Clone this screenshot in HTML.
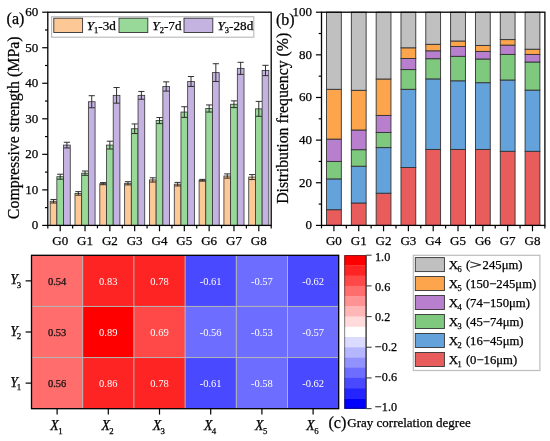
<!DOCTYPE html>
<html><head><meta charset="utf-8"><style>
html,body{margin:0;padding:0;background:#fff;width:550px;height:441px;overflow:hidden;}
svg{display:block;will-change:transform;}
text{font-family:"Liberation Serif", serif;stroke:currentColor;stroke-width:0.25px;}
</style></head><body>
<svg width="550" height="441" viewBox="0 0 550 441">
<rect x="50.16" y="201.24" width="6.70" height="24.16" fill="#fcc896" stroke="#333" stroke-width="0.8"/>
<rect x="56.86" y="176.72" width="6.70" height="48.68" fill="#98d898" stroke="#333" stroke-width="0.8"/>
<rect x="63.56" y="145.09" width="6.70" height="80.31" fill="#c4b2e0" stroke="#333" stroke-width="0.8"/>
<path d="M53.51 199.46V203.01M50.41 199.46h6.2M50.41 203.01h6.2" stroke="#262626" stroke-width="0.95" fill="none"/>
<path d="M60.21 174.23V179.21M57.11 174.23h6.2M57.11 179.21h6.2" stroke="#262626" stroke-width="0.95" fill="none"/>
<path d="M66.91 142.25V147.94M63.81 142.25h6.2M63.81 147.94h6.2" stroke="#262626" stroke-width="0.95" fill="none"/>
<rect x="74.98" y="193.42" width="6.70" height="31.98" fill="#fcc896" stroke="#333" stroke-width="0.8"/>
<rect x="81.68" y="173.17" width="6.70" height="52.23" fill="#98d898" stroke="#333" stroke-width="0.8"/>
<rect x="88.38" y="101.74" width="6.70" height="123.66" fill="#c4b2e0" stroke="#333" stroke-width="0.8"/>
<path d="M78.33 191.64V195.20M75.23 191.64h6.2M75.23 195.20h6.2" stroke="#262626" stroke-width="0.95" fill="none"/>
<path d="M85.03 171.03V175.30M81.93 171.03h6.2M81.93 175.30h6.2" stroke="#262626" stroke-width="0.95" fill="none"/>
<path d="M91.73 95.70V107.78M88.63 95.70h6.2M88.63 107.78h6.2" stroke="#262626" stroke-width="0.95" fill="none"/>
<rect x="99.81" y="183.65" width="6.70" height="41.75" fill="#fcc896" stroke="#333" stroke-width="0.8"/>
<rect x="106.51" y="145.09" width="6.70" height="80.31" fill="#98d898" stroke="#333" stroke-width="0.8"/>
<rect x="113.21" y="95.35" width="6.70" height="130.05" fill="#c4b2e0" stroke="#333" stroke-width="0.8"/>
<path d="M103.16 182.58V184.71M100.06 182.58h6.2M100.06 184.71h6.2" stroke="#262626" stroke-width="0.95" fill="none"/>
<path d="M109.86 141.19V149.00M106.76 141.19h6.2M106.76 149.00h6.2" stroke="#262626" stroke-width="0.95" fill="none"/>
<path d="M116.56 87.53V103.17M113.46 87.53h6.2M113.46 103.17h6.2" stroke="#262626" stroke-width="0.95" fill="none"/>
<rect x="124.63" y="183.29" width="6.70" height="42.11" fill="#fcc896" stroke="#333" stroke-width="0.8"/>
<rect x="131.33" y="128.75" width="6.70" height="96.65" fill="#98d898" stroke="#333" stroke-width="0.8"/>
<rect x="138.03" y="95.35" width="6.70" height="130.05" fill="#c4b2e0" stroke="#333" stroke-width="0.8"/>
<path d="M127.98 181.69V184.89M124.88 181.69h6.2M124.88 184.89h6.2" stroke="#262626" stroke-width="0.95" fill="none"/>
<path d="M134.68 123.95V133.55M131.58 123.95h6.2M131.58 133.55h6.2" stroke="#262626" stroke-width="0.95" fill="none"/>
<path d="M141.38 91.44V99.26M138.28 91.44h6.2M138.28 99.26h6.2" stroke="#262626" stroke-width="0.95" fill="none"/>
<rect x="149.45" y="179.92" width="6.70" height="45.48" fill="#fcc896" stroke="#333" stroke-width="0.8"/>
<rect x="156.15" y="120.58" width="6.70" height="104.82" fill="#98d898" stroke="#333" stroke-width="0.8"/>
<rect x="162.85" y="86.46" width="6.70" height="138.94" fill="#c4b2e0" stroke="#333" stroke-width="0.8"/>
<path d="M152.80 177.79V182.05M149.70 177.79h6.2M149.70 182.05h6.2" stroke="#262626" stroke-width="0.95" fill="none"/>
<path d="M159.50 117.56V123.60M156.40 117.56h6.2M156.40 123.60h6.2" stroke="#262626" stroke-width="0.95" fill="none"/>
<path d="M166.20 81.85V91.08M163.10 81.85h6.2M163.10 91.08h6.2" stroke="#262626" stroke-width="0.95" fill="none"/>
<rect x="174.27" y="184.18" width="6.70" height="41.22" fill="#fcc896" stroke="#333" stroke-width="0.8"/>
<rect x="180.97" y="112.05" width="6.70" height="113.35" fill="#98d898" stroke="#333" stroke-width="0.8"/>
<rect x="187.67" y="81.49" width="6.70" height="143.91" fill="#c4b2e0" stroke="#333" stroke-width="0.8"/>
<path d="M177.62 182.40V185.96M174.52 182.40h6.2M174.52 185.96h6.2" stroke="#262626" stroke-width="0.95" fill="none"/>
<path d="M184.32 106.72V117.38M181.22 106.72h6.2M181.22 117.38h6.2" stroke="#262626" stroke-width="0.95" fill="none"/>
<path d="M191.02 76.52V86.46M187.92 76.52h6.2M187.92 86.46h6.2" stroke="#262626" stroke-width="0.95" fill="none"/>
<rect x="199.09" y="180.27" width="6.70" height="45.13" fill="#fcc896" stroke="#333" stroke-width="0.8"/>
<rect x="205.79" y="108.50" width="6.70" height="116.90" fill="#98d898" stroke="#333" stroke-width="0.8"/>
<rect x="212.49" y="72.61" width="6.70" height="152.79" fill="#c4b2e0" stroke="#333" stroke-width="0.8"/>
<path d="M202.44 179.38V181.16M199.34 179.38h6.2M199.34 181.16h6.2" stroke="#262626" stroke-width="0.95" fill="none"/>
<path d="M209.14 104.94V112.05M206.04 104.94h6.2M206.04 112.05h6.2" stroke="#262626" stroke-width="0.95" fill="none"/>
<path d="M215.84 63.72V81.49M212.74 63.72h6.2M212.74 81.49h6.2" stroke="#262626" stroke-width="0.95" fill="none"/>
<rect x="223.92" y="176.01" width="6.70" height="49.39" fill="#fcc896" stroke="#333" stroke-width="0.8"/>
<rect x="230.62" y="104.23" width="6.70" height="121.17" fill="#98d898" stroke="#333" stroke-width="0.8"/>
<rect x="237.32" y="68.34" width="6.70" height="157.06" fill="#c4b2e0" stroke="#333" stroke-width="0.8"/>
<path d="M227.27 173.88V178.14M224.17 173.88h6.2M224.17 178.14h6.2" stroke="#262626" stroke-width="0.95" fill="none"/>
<path d="M233.97 100.86V107.61M230.87 100.86h6.2M230.87 107.61h6.2" stroke="#262626" stroke-width="0.95" fill="none"/>
<path d="M240.67 62.30V74.38M237.57 62.30h6.2M237.57 74.38h6.2" stroke="#262626" stroke-width="0.95" fill="none"/>
<rect x="248.74" y="177.07" width="6.70" height="48.33" fill="#fcc896" stroke="#333" stroke-width="0.8"/>
<rect x="255.44" y="108.85" width="6.70" height="116.55" fill="#98d898" stroke="#333" stroke-width="0.8"/>
<rect x="262.14" y="70.47" width="6.70" height="154.93" fill="#c4b2e0" stroke="#333" stroke-width="0.8"/>
<path d="M252.09 174.59V179.56M248.99 174.59h6.2M248.99 179.56h6.2" stroke="#262626" stroke-width="0.95" fill="none"/>
<path d="M258.79 101.39V116.31M255.69 101.39h6.2M255.69 116.31h6.2" stroke="#262626" stroke-width="0.95" fill="none"/>
<path d="M265.49 65.32V75.63M262.39 65.32h6.2M262.39 75.63h6.2" stroke="#262626" stroke-width="0.95" fill="none"/>
<rect x="47.8" y="12.2" width="223.40" height="213.20" fill="none" stroke="#000" stroke-width="1.3"/>
<path d="M42.20 225.40H47.8" stroke="#000" stroke-width="1.2"/>
<text x="38.2" y="229.40" font-size="13" text-anchor="end">0</text>
<path d="M45.00 207.63H47.8" stroke="#000" stroke-width="1.2"/>
<path d="M42.20 189.87H47.8" stroke="#000" stroke-width="1.2"/>
<text x="38.2" y="193.87" font-size="13" text-anchor="end">10</text>
<path d="M45.00 172.10H47.8" stroke="#000" stroke-width="1.2"/>
<path d="M42.20 154.33H47.8" stroke="#000" stroke-width="1.2"/>
<text x="38.2" y="158.33" font-size="13" text-anchor="end">20</text>
<path d="M45.00 136.57H47.8" stroke="#000" stroke-width="1.2"/>
<path d="M42.20 118.80H47.8" stroke="#000" stroke-width="1.2"/>
<text x="38.2" y="122.80" font-size="13" text-anchor="end">30</text>
<path d="M45.00 101.03H47.8" stroke="#000" stroke-width="1.2"/>
<path d="M42.20 83.27H47.8" stroke="#000" stroke-width="1.2"/>
<text x="38.2" y="87.27" font-size="13" text-anchor="end">40</text>
<path d="M45.00 65.50H47.8" stroke="#000" stroke-width="1.2"/>
<path d="M42.20 47.73H47.8" stroke="#000" stroke-width="1.2"/>
<text x="38.2" y="51.73" font-size="13" text-anchor="end">50</text>
<path d="M45.00 29.97H47.8" stroke="#000" stroke-width="1.2"/>
<path d="M42.20 12.20H47.8" stroke="#000" stroke-width="1.2"/>
<text x="38.2" y="16.20" font-size="13" text-anchor="end">60</text>
<path d="M47.80 225.4V228.40" stroke="#000" stroke-width="1.2"/>
<path d="M72.62 225.4V228.40" stroke="#000" stroke-width="1.2"/>
<path d="M97.44 225.4V228.40" stroke="#000" stroke-width="1.2"/>
<path d="M122.27 225.4V228.40" stroke="#000" stroke-width="1.2"/>
<path d="M147.09 225.4V228.40" stroke="#000" stroke-width="1.2"/>
<path d="M171.91 225.4V228.40" stroke="#000" stroke-width="1.2"/>
<path d="M196.73 225.4V228.40" stroke="#000" stroke-width="1.2"/>
<path d="M221.56 225.4V228.40" stroke="#000" stroke-width="1.2"/>
<path d="M246.38 225.4V228.40" stroke="#000" stroke-width="1.2"/>
<path d="M271.20 225.4V228.40" stroke="#000" stroke-width="1.2"/>
<path d="M60.21 225.4V231.30" stroke="#000" stroke-width="1.2"/>
<text x="60.21" y="245" font-size="13" text-anchor="middle">G0</text>
<path d="M85.03 225.4V231.30" stroke="#000" stroke-width="1.2"/>
<text x="85.03" y="245" font-size="13" text-anchor="middle">G1</text>
<path d="M109.86 225.4V231.30" stroke="#000" stroke-width="1.2"/>
<text x="109.86" y="245" font-size="13" text-anchor="middle">G2</text>
<path d="M134.68 225.4V231.30" stroke="#000" stroke-width="1.2"/>
<text x="134.68" y="245" font-size="13" text-anchor="middle">G3</text>
<path d="M159.50 225.4V231.30" stroke="#000" stroke-width="1.2"/>
<text x="159.50" y="245" font-size="13" text-anchor="middle">G4</text>
<path d="M184.32 225.4V231.30" stroke="#000" stroke-width="1.2"/>
<text x="184.32" y="245" font-size="13" text-anchor="middle">G5</text>
<path d="M209.14 225.4V231.30" stroke="#000" stroke-width="1.2"/>
<text x="209.14" y="245" font-size="13" text-anchor="middle">G6</text>
<path d="M233.97 225.4V231.30" stroke="#000" stroke-width="1.2"/>
<text x="233.97" y="245" font-size="13" text-anchor="middle">G7</text>
<path d="M258.79 225.4V231.30" stroke="#000" stroke-width="1.2"/>
<text x="258.79" y="245" font-size="13" text-anchor="middle">G8</text>
<rect x="51.6" y="16.7" width="202.2" height="20.5" fill="#fff" stroke="#bdbdbd" stroke-width="1.2"/>
<rect x="53.8" y="18.2" width="28.8" height="14.3" fill="#fcc896" stroke="#333" stroke-width="0.9"/>
<text x="86.7" y="29.8" font-size="13.2"><tspan font-style="italic">Y</tspan><tspan font-size="8.5" dy="2.8">1</tspan><tspan dy="-2.8">-3d</tspan></text>
<rect x="119" y="18.2" width="28.8" height="14.3" fill="#98d898" stroke="#333" stroke-width="0.9"/>
<text x="152.3" y="29.8" font-size="13.2"><tspan font-style="italic">Y</tspan><tspan font-size="8.5" dy="2.8">2</tspan><tspan dy="-2.8">-7d</tspan></text>
<rect x="184" y="18.2" width="28.8" height="14.3" fill="#c4b2e0" stroke="#333" stroke-width="0.9"/>
<text x="217.5" y="29.8" font-size="13.2"><tspan font-style="italic">Y</tspan><tspan font-size="8.5" dy="2.8">3</tspan><tspan dy="-2.8">-28d</tspan></text>
<text x="6.6" y="24.4" font-size="16">(a)</text>
<text transform="translate(18.9 127.8) rotate(-90)" font-size="15.9" text-anchor="middle">Compressive strength (MPa)</text>
<rect x="326.51" y="209.70" width="14.8" height="15.70" fill="#e95c5c" stroke="#333" stroke-width="0.9"/>
<rect x="326.51" y="178.90" width="14.8" height="30.80" fill="#64a2dc" stroke="#333" stroke-width="0.9"/>
<rect x="326.51" y="161.40" width="14.8" height="17.50" fill="#7fc97f" stroke="#333" stroke-width="0.9"/>
<rect x="326.51" y="139.10" width="14.8" height="22.30" fill="#b97fcf" stroke="#333" stroke-width="0.9"/>
<rect x="326.51" y="89.30" width="14.8" height="49.80" fill="#fca54c" stroke="#333" stroke-width="0.9"/>
<rect x="326.51" y="12.20" width="14.8" height="77.10" fill="#c0c0c0" stroke="#333" stroke-width="0.9"/>
<rect x="351.33" y="203.00" width="14.8" height="22.40" fill="#e95c5c" stroke="#333" stroke-width="0.9"/>
<rect x="351.33" y="166.20" width="14.8" height="36.80" fill="#64a2dc" stroke="#333" stroke-width="0.9"/>
<rect x="351.33" y="149.70" width="14.8" height="16.50" fill="#7fc97f" stroke="#333" stroke-width="0.9"/>
<rect x="351.33" y="130.00" width="14.8" height="19.70" fill="#b97fcf" stroke="#333" stroke-width="0.9"/>
<rect x="351.33" y="90.30" width="14.8" height="39.70" fill="#fca54c" stroke="#333" stroke-width="0.9"/>
<rect x="351.33" y="12.20" width="14.8" height="78.10" fill="#c0c0c0" stroke="#333" stroke-width="0.9"/>
<rect x="376.16" y="193.20" width="14.8" height="32.20" fill="#e95c5c" stroke="#333" stroke-width="0.9"/>
<rect x="376.16" y="147.60" width="14.8" height="45.60" fill="#64a2dc" stroke="#333" stroke-width="0.9"/>
<rect x="376.16" y="132.40" width="14.8" height="15.20" fill="#7fc97f" stroke="#333" stroke-width="0.9"/>
<rect x="376.16" y="115.40" width="14.8" height="17.00" fill="#b97fcf" stroke="#333" stroke-width="0.9"/>
<rect x="376.16" y="79.00" width="14.8" height="36.40" fill="#fca54c" stroke="#333" stroke-width="0.9"/>
<rect x="376.16" y="12.20" width="14.8" height="66.80" fill="#c0c0c0" stroke="#333" stroke-width="0.9"/>
<rect x="400.98" y="167.50" width="14.8" height="57.90" fill="#e95c5c" stroke="#333" stroke-width="0.9"/>
<rect x="400.98" y="89.30" width="14.8" height="78.20" fill="#64a2dc" stroke="#333" stroke-width="0.9"/>
<rect x="400.98" y="69.60" width="14.8" height="19.70" fill="#7fc97f" stroke="#333" stroke-width="0.9"/>
<rect x="400.98" y="58.50" width="14.8" height="11.10" fill="#b97fcf" stroke="#333" stroke-width="0.9"/>
<rect x="400.98" y="47.80" width="14.8" height="10.70" fill="#fca54c" stroke="#333" stroke-width="0.9"/>
<rect x="400.98" y="12.20" width="14.8" height="35.60" fill="#c0c0c0" stroke="#333" stroke-width="0.9"/>
<rect x="425.80" y="149.40" width="14.8" height="76.00" fill="#e95c5c" stroke="#333" stroke-width="0.9"/>
<rect x="425.80" y="78.90" width="14.8" height="70.50" fill="#64a2dc" stroke="#333" stroke-width="0.9"/>
<rect x="425.80" y="58.70" width="14.8" height="20.20" fill="#7fc97f" stroke="#333" stroke-width="0.9"/>
<rect x="425.80" y="50.80" width="14.8" height="7.90" fill="#b97fcf" stroke="#333" stroke-width="0.9"/>
<rect x="425.80" y="44.30" width="14.8" height="6.50" fill="#fca54c" stroke="#333" stroke-width="0.9"/>
<rect x="425.80" y="12.20" width="14.8" height="32.10" fill="#c0c0c0" stroke="#333" stroke-width="0.9"/>
<rect x="450.62" y="149.40" width="14.8" height="76.00" fill="#e95c5c" stroke="#333" stroke-width="0.9"/>
<rect x="450.62" y="80.80" width="14.8" height="68.60" fill="#64a2dc" stroke="#333" stroke-width="0.9"/>
<rect x="450.62" y="56.30" width="14.8" height="24.50" fill="#7fc97f" stroke="#333" stroke-width="0.9"/>
<rect x="450.62" y="46.50" width="14.8" height="9.80" fill="#b97fcf" stroke="#333" stroke-width="0.9"/>
<rect x="450.62" y="41.00" width="14.8" height="5.50" fill="#fca54c" stroke="#333" stroke-width="0.9"/>
<rect x="450.62" y="12.20" width="14.8" height="28.80" fill="#c0c0c0" stroke="#333" stroke-width="0.9"/>
<rect x="475.44" y="149.40" width="14.8" height="76.00" fill="#e95c5c" stroke="#333" stroke-width="0.9"/>
<rect x="475.44" y="82.70" width="14.8" height="66.70" fill="#64a2dc" stroke="#333" stroke-width="0.9"/>
<rect x="475.44" y="59.00" width="14.8" height="23.70" fill="#7fc97f" stroke="#333" stroke-width="0.9"/>
<rect x="475.44" y="51.40" width="14.8" height="7.60" fill="#b97fcf" stroke="#333" stroke-width="0.9"/>
<rect x="475.44" y="45.40" width="14.8" height="6.00" fill="#fca54c" stroke="#333" stroke-width="0.9"/>
<rect x="475.44" y="12.20" width="14.8" height="33.20" fill="#c0c0c0" stroke="#333" stroke-width="0.9"/>
<rect x="500.27" y="151.30" width="14.8" height="74.10" fill="#e95c5c" stroke="#333" stroke-width="0.9"/>
<rect x="500.27" y="80.00" width="14.8" height="71.30" fill="#64a2dc" stroke="#333" stroke-width="0.9"/>
<rect x="500.27" y="54.40" width="14.8" height="25.60" fill="#7fc97f" stroke="#333" stroke-width="0.9"/>
<rect x="500.27" y="45.10" width="14.8" height="9.30" fill="#b97fcf" stroke="#333" stroke-width="0.9"/>
<rect x="500.27" y="39.60" width="14.8" height="5.50" fill="#fca54c" stroke="#333" stroke-width="0.9"/>
<rect x="500.27" y="12.20" width="14.8" height="27.40" fill="#c0c0c0" stroke="#333" stroke-width="0.9"/>
<rect x="525.09" y="151.30" width="14.8" height="74.10" fill="#e95c5c" stroke="#333" stroke-width="0.9"/>
<rect x="525.09" y="90.10" width="14.8" height="61.20" fill="#64a2dc" stroke="#333" stroke-width="0.9"/>
<rect x="525.09" y="62.00" width="14.8" height="28.10" fill="#7fc97f" stroke="#333" stroke-width="0.9"/>
<rect x="525.09" y="54.40" width="14.8" height="7.60" fill="#b97fcf" stroke="#333" stroke-width="0.9"/>
<rect x="525.09" y="49.20" width="14.8" height="5.20" fill="#fca54c" stroke="#333" stroke-width="0.9"/>
<rect x="525.09" y="12.20" width="14.8" height="37.00" fill="#c0c0c0" stroke="#333" stroke-width="0.9"/>
<rect x="321.5" y="12.2" width="223.40" height="213.20" fill="none" stroke="#000" stroke-width="1.3"/>
<path d="M315.90 225.40H321.5" stroke="#000" stroke-width="1.2"/>
<text x="311.90" y="229.40" font-size="13" text-anchor="end">0</text>
<path d="M318.70 204.08H321.5" stroke="#000" stroke-width="1.2"/>
<path d="M315.90 182.76H321.5" stroke="#000" stroke-width="1.2"/>
<text x="311.90" y="186.76" font-size="13" text-anchor="end">20</text>
<path d="M318.70 161.44H321.5" stroke="#000" stroke-width="1.2"/>
<path d="M315.90 140.12H321.5" stroke="#000" stroke-width="1.2"/>
<text x="311.90" y="144.12" font-size="13" text-anchor="end">40</text>
<path d="M318.70 118.80H321.5" stroke="#000" stroke-width="1.2"/>
<path d="M315.90 97.48H321.5" stroke="#000" stroke-width="1.2"/>
<text x="311.90" y="101.48" font-size="13" text-anchor="end">60</text>
<path d="M318.70 76.16H321.5" stroke="#000" stroke-width="1.2"/>
<path d="M315.90 54.84H321.5" stroke="#000" stroke-width="1.2"/>
<text x="311.90" y="58.84" font-size="13" text-anchor="end">80</text>
<path d="M318.70 33.52H321.5" stroke="#000" stroke-width="1.2"/>
<path d="M315.90 12.20H321.5" stroke="#000" stroke-width="1.2"/>
<text x="311.90" y="16.20" font-size="13" text-anchor="end">100</text>
<path d="M321.50 225.4V228.40" stroke="#000" stroke-width="1.2"/>
<path d="M346.32 225.4V228.40" stroke="#000" stroke-width="1.2"/>
<path d="M371.14 225.4V228.40" stroke="#000" stroke-width="1.2"/>
<path d="M395.97 225.4V228.40" stroke="#000" stroke-width="1.2"/>
<path d="M420.79 225.4V228.40" stroke="#000" stroke-width="1.2"/>
<path d="M445.61 225.4V228.40" stroke="#000" stroke-width="1.2"/>
<path d="M470.43 225.4V228.40" stroke="#000" stroke-width="1.2"/>
<path d="M495.26 225.4V228.40" stroke="#000" stroke-width="1.2"/>
<path d="M520.08 225.4V228.40" stroke="#000" stroke-width="1.2"/>
<path d="M544.90 225.4V228.40" stroke="#000" stroke-width="1.2"/>
<path d="M333.91 225.4V231.30" stroke="#000" stroke-width="1.2"/>
<text x="333.91" y="245" font-size="13" text-anchor="middle">G0</text>
<path d="M358.73 225.4V231.30" stroke="#000" stroke-width="1.2"/>
<text x="358.73" y="245" font-size="13" text-anchor="middle">G1</text>
<path d="M383.56 225.4V231.30" stroke="#000" stroke-width="1.2"/>
<text x="383.56" y="245" font-size="13" text-anchor="middle">G2</text>
<path d="M408.38 225.4V231.30" stroke="#000" stroke-width="1.2"/>
<text x="408.38" y="245" font-size="13" text-anchor="middle">G3</text>
<path d="M433.20 225.4V231.30" stroke="#000" stroke-width="1.2"/>
<text x="433.20" y="245" font-size="13" text-anchor="middle">G4</text>
<path d="M458.02 225.4V231.30" stroke="#000" stroke-width="1.2"/>
<text x="458.02" y="245" font-size="13" text-anchor="middle">G5</text>
<path d="M482.84 225.4V231.30" stroke="#000" stroke-width="1.2"/>
<text x="482.84" y="245" font-size="13" text-anchor="middle">G6</text>
<path d="M507.67 225.4V231.30" stroke="#000" stroke-width="1.2"/>
<text x="507.67" y="245" font-size="13" text-anchor="middle">G7</text>
<path d="M532.49 225.4V231.30" stroke="#000" stroke-width="1.2"/>
<text x="532.49" y="245" font-size="13" text-anchor="middle">G8</text>
<text x="276" y="25" font-size="16">(b)</text>
<text transform="translate(288.1 118.3) rotate(-90)" font-size="15.8" text-anchor="middle">Distribution frequency (%)</text>
<rect x="31.50" y="255.30" width="51.20" height="51.13" fill="rgb(255,109,109)"/>
<rect x="82.70" y="255.30" width="51.20" height="51.13" fill="rgb(255,36,36)"/>
<rect x="133.90" y="255.30" width="51.20" height="51.13" fill="rgb(255,36,36)"/>
<rect x="185.10" y="255.30" width="51.20" height="51.13" fill="rgb(73,73,255)"/>
<rect x="236.30" y="255.30" width="51.20" height="51.13" fill="rgb(109,109,255)"/>
<rect x="287.50" y="255.30" width="51.20" height="51.13" fill="rgb(73,73,255)"/>
<rect x="31.50" y="306.43" width="51.20" height="51.13" fill="rgb(255,109,109)"/>
<rect x="82.70" y="306.43" width="51.20" height="51.13" fill="rgb(255,0,0)"/>
<rect x="133.90" y="306.43" width="51.20" height="51.13" fill="rgb(255,73,73)"/>
<rect x="185.10" y="306.43" width="51.20" height="51.13" fill="rgb(109,109,255)"/>
<rect x="236.30" y="306.43" width="51.20" height="51.13" fill="rgb(109,109,255)"/>
<rect x="287.50" y="306.43" width="51.20" height="51.13" fill="rgb(109,109,255)"/>
<rect x="31.50" y="357.56" width="51.20" height="51.13" fill="rgb(255,109,109)"/>
<rect x="82.70" y="357.56" width="51.20" height="51.13" fill="rgb(255,36,36)"/>
<rect x="133.90" y="357.56" width="51.20" height="51.13" fill="rgb(255,36,36)"/>
<rect x="185.10" y="357.56" width="51.20" height="51.13" fill="rgb(73,73,255)"/>
<rect x="236.30" y="357.56" width="51.20" height="51.13" fill="rgb(109,109,255)"/>
<rect x="287.50" y="357.56" width="51.20" height="51.13" fill="rgb(73,73,255)"/>
<path d="M82.70 255.3V408.69" stroke="#b4b4b4" stroke-width="1"/>
<path d="M133.90 255.3V408.69" stroke="#b4b4b4" stroke-width="1"/>
<path d="M185.10 255.3V408.69" stroke="#b4b4b4" stroke-width="1"/>
<path d="M236.30 255.3V408.69" stroke="#b4b4b4" stroke-width="1"/>
<path d="M287.50 255.3V408.69" stroke="#b4b4b4" stroke-width="1"/>
<path d="M31.5 306.43H338.70" stroke="#b4b4b4" stroke-width="1"/>
<path d="M31.5 357.56H338.70" stroke="#b4b4b4" stroke-width="1"/>
<text x="57.10" y="284.76" font-size="10.5" text-anchor="middle" style="fill:#111;stroke:#111;stroke-width:0.25px">0.54</text>
<text x="108.30" y="284.76" font-size="10.5" text-anchor="middle" style="fill:#fff;stroke:#fff;stroke-width:0px">0.83</text>
<text x="159.50" y="284.76" font-size="10.5" text-anchor="middle" style="fill:#fff;stroke:#fff;stroke-width:0px">0.78</text>
<text x="210.70" y="284.76" font-size="10.5" text-anchor="middle" style="fill:#fff;stroke:#fff;stroke-width:0px">-0.61</text>
<text x="261.90" y="284.76" font-size="10.5" text-anchor="middle" style="fill:#fff;stroke:#fff;stroke-width:0px">-0.57</text>
<text x="313.10" y="284.76" font-size="10.5" text-anchor="middle" style="fill:#fff;stroke:#fff;stroke-width:0px">-0.62</text>
<text x="57.10" y="335.89" font-size="10.5" text-anchor="middle" style="fill:#111;stroke:#111;stroke-width:0.25px">0.53</text>
<text x="108.30" y="335.89" font-size="10.5" text-anchor="middle" style="fill:#fff;stroke:#fff;stroke-width:0px">0.89</text>
<text x="159.50" y="335.89" font-size="10.5" text-anchor="middle" style="fill:#fff;stroke:#fff;stroke-width:0px">0.69</text>
<text x="210.70" y="335.89" font-size="10.5" text-anchor="middle" style="fill:#fff;stroke:#fff;stroke-width:0px">-0.56</text>
<text x="261.90" y="335.89" font-size="10.5" text-anchor="middle" style="fill:#fff;stroke:#fff;stroke-width:0px">-0.53</text>
<text x="313.10" y="335.89" font-size="10.5" text-anchor="middle" style="fill:#fff;stroke:#fff;stroke-width:0px">-0.57</text>
<text x="57.10" y="387.02" font-size="10.5" text-anchor="middle" style="fill:#111;stroke:#111;stroke-width:0.25px">0.56</text>
<text x="108.30" y="387.02" font-size="10.5" text-anchor="middle" style="fill:#fff;stroke:#fff;stroke-width:0px">0.86</text>
<text x="159.50" y="387.02" font-size="10.5" text-anchor="middle" style="fill:#fff;stroke:#fff;stroke-width:0px">0.78</text>
<text x="210.70" y="387.02" font-size="10.5" text-anchor="middle" style="fill:#fff;stroke:#fff;stroke-width:0px">-0.61</text>
<text x="261.90" y="387.02" font-size="10.5" text-anchor="middle" style="fill:#fff;stroke:#fff;stroke-width:0px">-0.58</text>
<text x="313.10" y="387.02" font-size="10.5" text-anchor="middle" style="fill:#fff;stroke:#fff;stroke-width:0px">-0.62</text>
<rect x="31.5" y="255.3" width="307.20" height="153.39" fill="none" stroke="#000" stroke-width="1.3"/>
<path d="M25.60 280.87H31.5" stroke="#000" stroke-width="1.2"/>
<text x="10.3" y="284.37" font-size="13.8"><tspan font-style="italic">Y</tspan><tspan font-size="8.8" dx="-1.3" dy="3.6">3</tspan></text>
<path d="M25.60 332.00H31.5" stroke="#000" stroke-width="1.2"/>
<text x="10.3" y="335.50" font-size="13.8"><tspan font-style="italic">Y</tspan><tspan font-size="8.8" dx="-1.3" dy="3.6">2</tspan></text>
<path d="M25.60 383.12H31.5" stroke="#000" stroke-width="1.2"/>
<text x="10.3" y="386.62" font-size="13.8"><tspan font-style="italic">Y</tspan><tspan font-size="8.8" dx="-1.3" dy="3.6">1</tspan></text>
<path d="M57.10 408.69V414.59" stroke="#000" stroke-width="1.2"/>
<text x="50.30" y="430" font-size="13.8"><tspan font-style="italic">X</tspan><tspan font-size="8.8" dx="-0.6" dy="3.9">1</tspan></text>
<path d="M108.30 408.69V414.59" stroke="#000" stroke-width="1.2"/>
<text x="101.50" y="430" font-size="13.8"><tspan font-style="italic">X</tspan><tspan font-size="8.8" dx="-0.6" dy="3.9">2</tspan></text>
<path d="M159.50 408.69V414.59" stroke="#000" stroke-width="1.2"/>
<text x="152.70" y="430" font-size="13.8"><tspan font-style="italic">X</tspan><tspan font-size="8.8" dx="-0.6" dy="3.9">3</tspan></text>
<path d="M210.70 408.69V414.59" stroke="#000" stroke-width="1.2"/>
<text x="203.90" y="430" font-size="13.8"><tspan font-style="italic">X</tspan><tspan font-size="8.8" dx="-0.6" dy="3.9">4</tspan></text>
<path d="M261.90 408.69V414.59" stroke="#000" stroke-width="1.2"/>
<text x="255.10" y="430" font-size="13.8"><tspan font-style="italic">X</tspan><tspan font-size="8.8" dx="-0.6" dy="3.9">5</tspan></text>
<path d="M313.10 408.69V414.59" stroke="#000" stroke-width="1.2"/>
<text x="306.30" y="430" font-size="13.8"><tspan font-style="italic">X</tspan><tspan font-size="8.8" dx="-0.6" dy="3.9">6</tspan></text>
<rect x="344.3" y="255.20" width="21.80" height="10.53" fill="rgb(255,0,0)"/>
<rect x="344.3" y="265.43" width="21.80" height="10.53" fill="rgb(255,36,36)"/>
<rect x="344.3" y="275.65" width="21.80" height="10.53" fill="rgb(255,73,73)"/>
<rect x="344.3" y="285.88" width="21.80" height="10.53" fill="rgb(255,109,109)"/>
<rect x="344.3" y="296.11" width="21.80" height="10.53" fill="rgb(255,146,146)"/>
<rect x="344.3" y="306.33" width="21.80" height="10.53" fill="rgb(255,182,182)"/>
<rect x="344.3" y="316.56" width="21.80" height="10.53" fill="rgb(255,219,219)"/>
<rect x="344.3" y="326.79" width="21.80" height="10.53" fill="rgb(255,255,255)"/>
<rect x="344.3" y="337.01" width="21.80" height="10.53" fill="rgb(219,219,255)"/>
<rect x="344.3" y="347.24" width="21.80" height="10.53" fill="rgb(182,182,255)"/>
<rect x="344.3" y="357.47" width="21.80" height="10.53" fill="rgb(146,146,255)"/>
<rect x="344.3" y="367.69" width="21.80" height="10.53" fill="rgb(109,109,255)"/>
<rect x="344.3" y="377.92" width="21.80" height="10.53" fill="rgb(73,73,255)"/>
<rect x="344.3" y="388.15" width="21.80" height="10.53" fill="rgb(36,36,255)"/>
<rect x="344.3" y="398.37" width="21.80" height="10.53" fill="rgb(0,0,255)"/>
<rect x="344.70" y="255.60" width="21.40" height="152.60" fill="none" stroke="rgba(0,0,0,0.55)" stroke-width="0.9"/>
<path d="M366.1 255.2V408.6" stroke="#333" stroke-width="1.1"/>
<path d="M366.1 255.20H371.60" stroke="#444" stroke-width="1.1"/>
<text x="375.00" y="261.10" font-size="12.2">1.0</text>
<path d="M366.1 285.88H371.60" stroke="#444" stroke-width="1.1"/>
<text x="375.00" y="291.02" font-size="12.2">0.6</text>
<path d="M366.1 316.56H371.60" stroke="#444" stroke-width="1.1"/>
<text x="375.00" y="320.94" font-size="12.2">0.2</text>
<path d="M366.1 347.24H371.60" stroke="#444" stroke-width="1.1"/>
<text x="375.00" y="350.86" font-size="12.2">−0.2</text>
<path d="M366.1 377.92H371.60" stroke="#444" stroke-width="1.1"/>
<text x="375.00" y="380.78" font-size="12.2">−0.6</text>
<path d="M366.1 408.60H371.60" stroke="#444" stroke-width="1.1"/>
<text x="375.00" y="410.70" font-size="12.2">−1.0</text>
<text x="328.4" y="428" font-size="16.2">(c)</text>
<text x="347.3" y="426.8" font-size="13">Gray correlation degree</text>
<rect x="413.3" y="255.3" width="126.6" height="115.2" fill="#fff" stroke="#bdbdbd" stroke-width="1.2"/>
<rect x="415.3" y="257.60" width="29.1" height="14" fill="#c0c0c0" stroke="#333" stroke-width="0.9"/>
<text x="448.8" y="268.70" font-size="13">X<tspan font-size="8.4" dx="-0.6" dy="3">6</tspan></text>
<text x="465.9" y="268.70" font-size="12.7">(</text>
<text x="469.6" y="268.70" font-size="12.7" textLength="12.6" lengthAdjust="spacingAndGlyphs">&gt;</text>
<text x="482.6" y="268.70" font-size="12.7">245μm)</text>
<rect x="415.3" y="276.57" width="29.1" height="14" fill="#fca54c" stroke="#333" stroke-width="0.9"/>
<text x="448.8" y="287.67" font-size="13">X<tspan font-size="8.4" dx="-0.6" dy="3">5</tspan></text>
<text x="465.9" y="287.67" font-size="12.7">(150−245μm)</text>
<rect x="415.3" y="295.54" width="29.1" height="14" fill="#b97fcf" stroke="#333" stroke-width="0.9"/>
<text x="448.8" y="306.64" font-size="13">X<tspan font-size="8.4" dx="-0.6" dy="3">4</tspan></text>
<text x="465.9" y="306.64" font-size="12.7">(74−150μm)</text>
<rect x="415.3" y="314.51" width="29.1" height="14" fill="#7fc97f" stroke="#333" stroke-width="0.9"/>
<text x="448.8" y="325.61" font-size="13">X<tspan font-size="8.4" dx="-0.6" dy="3">3</tspan></text>
<text x="465.9" y="325.61" font-size="12.7">(45−74μm)</text>
<rect x="415.3" y="333.48" width="29.1" height="14" fill="#64a2dc" stroke="#333" stroke-width="0.9"/>
<text x="448.8" y="344.58" font-size="13">X<tspan font-size="8.4" dx="-0.6" dy="3">2</tspan></text>
<text x="465.9" y="344.58" font-size="12.7">(16−45μm)</text>
<rect x="415.3" y="352.45" width="29.1" height="14" fill="#e95c5c" stroke="#333" stroke-width="0.9"/>
<text x="448.8" y="363.55" font-size="13">X<tspan font-size="8.4" dx="-0.6" dy="3">1</tspan></text>
<text x="465.9" y="363.55" font-size="12.7">(0−16μm)</text>
</svg>
</body></html>
